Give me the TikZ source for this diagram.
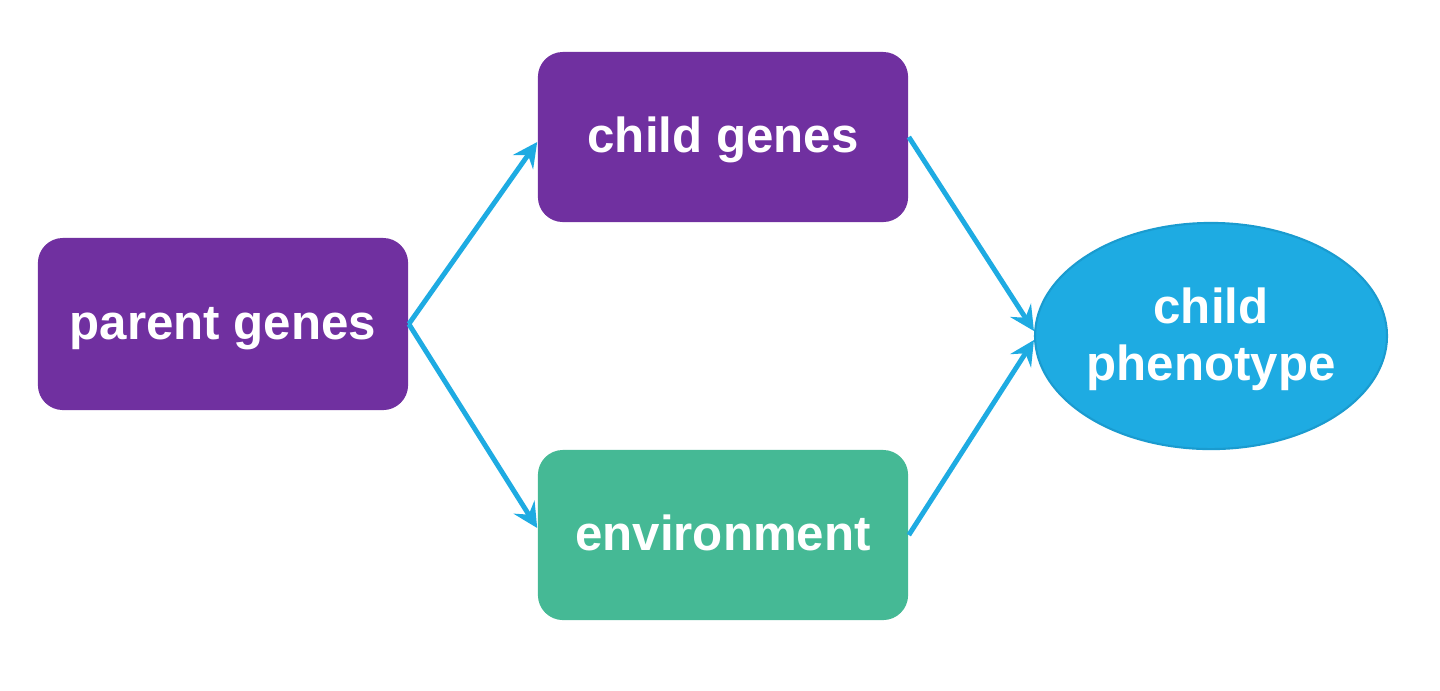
\documentclass[tikz,border=0pt]{standalone}
\usepackage{fontspec}
\setmainfont{Liberation Sans}
\usetikzlibrary{shapes.geometric,arrows.meta}
\definecolor{purp}{HTML}{7030A0}
\definecolor{grn}{HTML}{45B995}
\definecolor{blu}{HTML}{1EABE2}
\definecolor{bluedge}{HTML}{1A9BCF}
\begin{document}
\begin{tikzpicture}[x=0.01cm,y=-0.01cm,
  box/.style={rectangle,rounded corners=0.25cm,minimum width=3.70cm,minimum height=1.70cm,inner sep=0pt,text=white,text height=0.40cm,text depth=0.10cm,font=\fontsize{14}{16}\selectfont\bfseries},
  oval/.style={ellipse,fill=blu,draw=bluedge,line width=0.6pt,minimum width=3.44cm,minimum height=2.26cm,inner sep=0pt,text=white,align=center,text height=0.98cm,text depth=0.10cm,font=\fontsize{14}{16.2}\selectfont\bfseries},
  conn/.style={draw=blu,line width=1.4pt,-{Stealth[length=7pt,width=7pt,inset=2.5pt]}}]
\useasboundingbox (0,0) rectangle (1440,690);
\node[box,fill=purp,minimum height=1.72cm] (pg) at (223,324) {parent genes};
\node[box,fill=purp] (cg) at (723,137) {child genes};
\node[box,fill=grn] (env) at (723,535) {environment};
\node[oval] (cp) at (1211,336) {child\\phenotype};
\draw[conn] (pg.east) -- ([yshift=-0.05cm]cg.west);
\draw[conn] (pg.east) -- ([yshift=0.07cm]env.west);
\draw[conn] (cg.east) -- ([yshift=0.05cm]cp.west);
\draw[conn] (env.east) -- ([yshift=-0.04cm]cp.west);
\end{tikzpicture}
\end{document}
